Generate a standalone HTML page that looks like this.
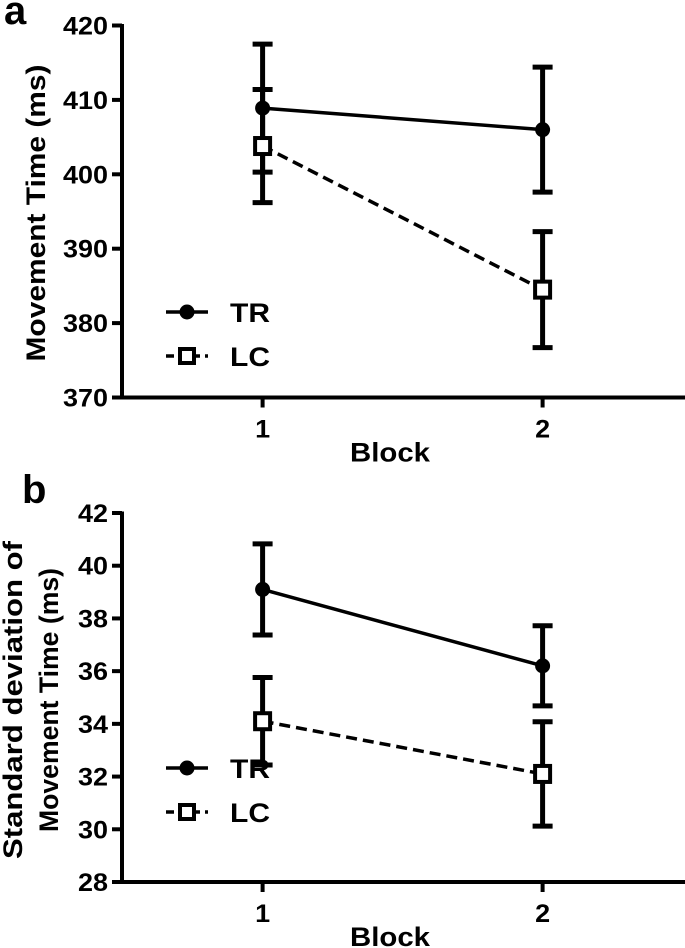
<!DOCTYPE html>
<html><head><meta charset="utf-8"><style>
html,body{margin:0;padding:0;background:#fff;}
svg{display:block;font-family:"Liberation Sans",Arial,sans-serif;font-weight:bold;}
</style></head><body>
<svg id="chart" width="685" height="948" viewBox="0 0 685 948"></svg>
<script>
const categories = [1, 2];
const ticksA = [370, 380, 390, 400, 410, 420];
const trMeanA = [408.9, 406.0];
const trErrA = [8.6, 8.4];
const lcMeanA = [403.8, 384.5];
const lcErrA = [7.6, 7.8];
const ticksB = [28, 30, 32, 34, 36, 38, 40, 42];
const trMeanB = [39.1, 36.2];
const trErrB = [1.73, 1.52];
const lcMeanB = [34.1, 32.1];
const lcErrB = [1.66, 1.98];

const NS = "http://www.w3.org/2000/svg";
const svg = document.getElementById('chart');
function mk(tag, attrs, parent, text) {
  const e = document.createElementNS(NS, tag);
  for (const k in attrs) e.setAttribute(k, attrs[k]);
  if (text !== undefined) e.textContent = text;
  (parent || svg).appendChild(e);
  return e;
}

function panel(cfg) {
  const g = mk('g', {});
  
  
  const x0 = 122, xEnd = 685;
  const xs = c => 262.6 + (c - 1) * 280;
  const ys = v => cfg.yBot - (v - cfg.min) / (cfg.max - cfg.min) * (cfg.yBot - cfg.yTop);
  const pl = mk('text', {x: cfg.letterX, y: cfg.letterY, 'font-size': 40}, g, cfg.letter);
  
  
  const ya = mk('line', {x1: x0, y1: cfg.yTop - 1.5, x2: x0, y2: cfg.yBot + 2, stroke: '#000', 'stroke-width': 4}, g);
  
  
  const xa = mk('line', {x1: x0 - 2, y1: cfg.yBot, x2: xEnd, y2: cfg.yBot, stroke: '#000', 'stroke-width': 4}, g);
  
  
  cfg.ticks.forEach(t => {
    const y = ys(t);
    const tl = mk('line', {x1: x0 - 10, y1: y, x2: x0, y2: y, stroke: '#000', 'stroke-width': 4}, g);
    
    
    const s = String(t);
    const tx = mk('text', {x: x0 - 14, y: y + 9, 'font-size': 25, 'text-anchor': 'end', textLength: s.length * 15, lengthAdjust: 'spacingAndGlyphs'}, g, s);
    
    
  });
  categories.forEach(c => {
    const x = xs(c);
    const tl = mk('line', {x1: x, y1: cfg.yBot, x2: x, y2: cfg.yBot + 10, stroke: '#000', 'stroke-width': 4}, g);
    
    
    const tx = mk('text', {x: x, y: cfg.yBot + 40, 'font-size': 25, 'text-anchor': 'middle', textLength: 15, lengthAdjust: 'spacingAndGlyphs'}, g, String(c));
    
    
  });
  const xt = mk('text', {x: 390, y: cfg.yBot + 64, 'font-size': 27, 'text-anchor': 'middle', textLength: 80, lengthAdjust: 'spacingAndGlyphs'}, g, 'Block');
  
  
  cfg.title.forEach((line, i) => {
    const yt = mk('text', {transform: `translate(${cfg.titleX[i]},${cfg.titleY}) rotate(-90)`, 'font-size': 27, 'text-anchor': 'middle', textLength: cfg.titleLen[i], lengthAdjust: 'spacingAndGlyphs'}, g, line);
    
    
  });

  function series(mean, err, dashed, square, name) {
    const sg = mk('g', {}, g);
    
    
    mean.forEach((m, i) => {
      const x = xs(categories[i]);
      const eb = mk('path', {d: `M${x},${ys(m + err[i])}V${ys(m - err[i])}M${x - 10},${ys(m + err[i])}H${x + 10}M${x - 10},${ys(m - err[i])}H${x + 10}`, stroke: '#000', 'stroke-width': 5, fill: 'none'}, sg);
      
      
    });
    const ln = mk('line', {x1: xs(categories[0]), y1: ys(mean[0]), x2: xs(categories[1]), y2: ys(mean[1]), stroke: '#000', 'stroke-width': 3.5, 'stroke-dasharray': dashed ? '11,6' : 'none'}, sg);
    
    
    mean.forEach((m, i) => {
      const x = xs(categories[i]), y = ys(m);
      let p;
      if (square) p = mk('rect', {x: x - 7.5, y: y - 8, width: 15, height: 16, fill: '#fff', stroke: '#000', 'stroke-width': 4}, sg);
      else p = mk('circle', {cx: x, cy: y, r: 7.5, fill: '#000'}, sg);
      
      
    });
  }
  series(cfg.trM, cfg.trE, false, false, 'series-tr');
  series(cfg.lcM, cfg.lcE, true, true, 'series-lc');

  const lg = mk('g', {}, g);
  
  
  const e1 = mk('g', {}, lg);
  
  
  mk('line', {x1: 166, y1: cfg.legY, x2: 208, y2: cfg.legY, stroke: '#000', 'stroke-width': 3.5}, e1);
  mk('circle', {cx: 187, cy: cfg.legY, r: 7.5, fill: '#000'}, e1);
  mk('text', {x: 230, y: cfg.legY + 10, 'font-size': 27, textLength: 40, lengthAdjust: 'spacingAndGlyphs'}, e1, 'TR');
  const e2 = mk('g', {}, lg);
  
  
  mk('line', {x1: 166, y1: cfg.legY + 44, x2: 208, y2: cfg.legY + 44, stroke: '#000', 'stroke-width': 3.5, 'stroke-dasharray': '8,5'}, e2);
  mk('rect', {x: 180, y: cfg.legY + 37, width: 14, height: 14, fill: '#fff', stroke: '#000', 'stroke-width': 4}, e2);
  mk('text', {x: 230, y: cfg.legY + 54, 'font-size': 27, textLength: 40, lengthAdjust: 'spacingAndGlyphs'}, e2, 'LC');
}

panel({name: 'panel-a', letter: 'a', letterX: 4, letterY: 24, yTop: 25.5, yBot: 397.5, min: 370, max: 420,
  ticks: ticksA, trM: trMeanA, trE: trErrA, lcM: lcMeanA, lcE: lcErrA, legY: 312,
  title: ['Movement Time (ms)'], titleLen: [297], titleX: [45], titleY: 213});
panel({name: 'panel-b', letter: 'b', letterX: 22, letterY: 503, yTop: 513, yBot: 882, min: 28, max: 42,
  ticks: ticksB, trM: trMeanB, trE: trErrB, lcM: lcMeanB, lcE: lcErrB, legY: 768,
  title: ['Standard deviation of', 'Movement Time (ms)'], titleLen: [318, 264], titleX: [22, 58], titleY: 700});
</script>
</body></html>
